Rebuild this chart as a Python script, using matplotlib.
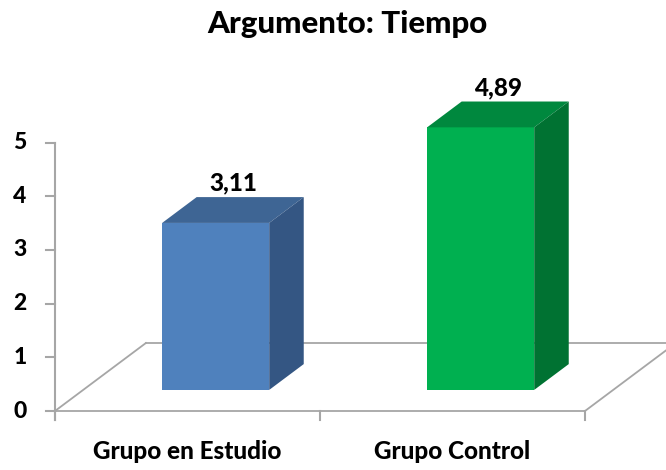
import matplotlib
matplotlib.use("Agg")
import matplotlib.pyplot as plt
from matplotlib.patches import Polygon

title = "Argumento: Tiempo"
categories = ["Grupo en Estudio", "Grupo Control"]
values = [3.11, 4.89]
labels = ["3,11", "4,89"]
y_ticks = [0, 1, 2, 3, 4, 5]

front_colors = ["#4F81BD", "#00B050"]
top_colors = ["#3E6594", "#00883E"]
side_colors = ["#345683", "#007232"]

# oblique depth offset (in data units) and bar geometry
DX, DY = 0.343, 1.266
D0, D1 = 0.31, 0.69
HW = 0.202
grid_color = "#A6A6A6"

plt.rcParams["font.family"] = ["Lato", "DejaVu Sans"]

fig = plt.figure(figsize=(6.66, 4.70), dpi=100)
ax = fig.add_axes([0, 0, 1, 1])
ax.set_xlim(-0.2075, 2.3057)
ax.set_ylim(-1.0987, 7.654)
ax.axis("off")

n = len(categories)

# floor
ax.plot([0, n], [0, 0], color=grid_color, lw=1.3, zorder=1)
ax.plot([0, DX], [0, DY], color=grid_color, lw=1.3, zorder=1)
ax.plot([DX, n + DX], [DY, DY], color=grid_color, lw=1.3, zorder=1)
ax.plot([n, n + DX], [0, DY], color=grid_color, lw=1.3, zorder=1)

# value axis
ax.plot([0, 0], [-0.17, y_ticks[-1]], color=grid_color, lw=1.5, zorder=1)
for t in y_ticks:
    ax.plot([-0.034, 0], [t, t], color=grid_color, lw=1.5, zorder=1)
    ax.text(-0.132, t, str(t), ha="center", va="center", fontsize=16.5,
            fontweight="black", color="black")

# category ticks
for i in range(n + 1):
    ax.plot([i, i], [0, -0.17], color=grid_color, lw=1.5, zorder=1)

for i, (cat, v) in enumerate(zip(categories, values)):
    c = i + 0.5
    x0 = c - HW + D0 * DX
    x1 = c + HW + D0 * DX
    yb = D0 * DY
    yt = yb + v
    ox, oy = (D1 - D0) * DX, (D1 - D0) * DY
    front = Polygon([(x0, yb), (x1, yb), (x1, yt), (x0, yt)], closed=True,
                    facecolor=front_colors[i], edgecolor="none", zorder=3)
    top = Polygon([(x0, yt), (x1, yt), (x1 + ox, yt + oy), (x0 + ox, yt + oy)],
                  closed=True, facecolor=top_colors[i], edgecolor="none", zorder=3)
    side = Polygon([(x1, yb), (x1 + ox, yb + oy), (x1 + ox, yt + oy), (x1, yt)],
                   closed=True, facecolor=side_colors[i], edgecolor="none", zorder=3)
    for p in (front, top, side):
        ax.add_patch(p)
    ax.text(c + 0.5 * (D0 + D1) * DX, yt + oy + 0.12, labels[i], ha="center",
            va="baseline", fontsize=17.5, fontweight="black", color="black")
    ax.text(c, -0.894, cat, ha="center", va="baseline", fontsize=17.5,
            fontweight="black", color="black")

fig.text(0.521, 0.93, title, ha="center", va="baseline", fontsize=22.5,
         fontweight="black", color="black")

fig.savefig("out.png", dpi=100)
